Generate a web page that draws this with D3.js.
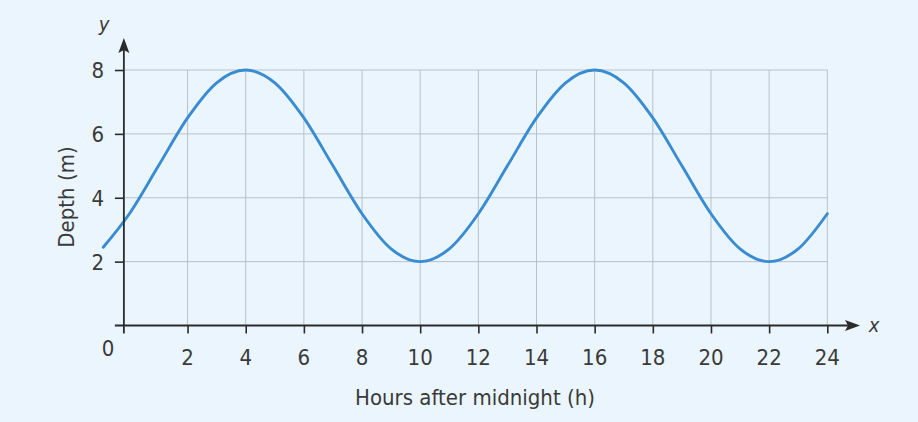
<!DOCTYPE html>
<html>
<head>
<meta charset="utf-8">
<script src="https://cdn.jsdelivr.net/npm/d3@7"></script>
<style>
  html, body { margin: 0; padding: 0; background: #eaf5fd; }
  svg { display: block; }
  text { font-family: "Liberation Sans Narrow", "DejaVu Sans Condensed", "Roboto", sans-serif; fill: #3a3a3a; }
</style>
</head>
<body>
<svg id="chart" width="918" height="422"></svg>
<script>
// Data
const hours  = [-0.9, 0, 1, 2, 3, 4, 5, 6, 7, 8, 9, 10, 11, 12, 13, 14, 15, 16, 17, 18, 19, 20, 21, 22, 23, 24];
const depths = [2.45, 3.5, 5.0, 6.5, 7.6, 8.0, 7.6, 6.5, 5.0, 3.5, 2.4, 2.0, 2.4, 3.5, 5.0, 6.5, 7.6, 8.0, 7.6, 6.5, 5.0, 3.5, 2.4, 2.0, 2.4, 3.5];
const xTicks = [2, 4, 6, 8, 10, 12, 14, 16, 18, 20, 22, 24];
const yTicks = [2, 4, 6, 8];
const xTitle = "Hours after midnight (h)";
const yTitle = "Depth (m)";

const svg = d3.select("#chart");
const W = 918, H = 422;
svg.append("rect").attr("width", W).attr("height", H).attr("fill", "#eaf5fd");

const x = d3.scaleLinear().domain([0, 24]).range([129.4, 827.3]);
const y = d3.scaleLinear().domain([0, 8]).range([325.5, 70]);
const axisAtX = -0.19;   // y-axis sits slightly left of x = 0 in the reference
const x0 = x(axisAtX), y0 = y(0);

const gridColor = "#b7c1ca";
const axisColor = "#2b2b2b";

// vertical grid lines
svg.append("g").selectAll("line").data(xTicks).join("line")
  .attr("x1", d => x(d)).attr("x2", d => x(d))
  .attr("y1", y(0)).attr("y2", y(8))
  .attr("stroke", gridColor).attr("stroke-width", 1);

// horizontal grid lines
svg.append("g").selectAll("line").data(yTicks).join("line")
  .attr("x1", x0).attr("x2", x(24))
  .attr("y1", d => y(d)).attr("y2", d => y(d))
  .attr("stroke", gridColor).attr("stroke-width", 1);

// curve
const pts = hours.map((h, i) => [h, depths[i]]);
const line = d3.line().x(d => x(d[0])).y(d => y(d[1])).curve(d3.curveMonotoneX);
svg.append("path").attr("d", line(pts))
  .attr("fill", "none").attr("stroke", "#3a8cd2").attr("stroke-width", 2.9)
  .attr("stroke-linecap", "round");

// axes
const xAxisG = svg.append("g").attr("transform", `translate(0,${y0})`);
xAxisG.call(d3.axisBottom(x).tickValues(xTicks).tickSize(8).tickFormat(""));
xAxisG.select(".domain").remove();
xAxisG.selectAll(".tick line").attr("stroke", axisColor).attr("stroke-width", 1.6);

const yAxisG = svg.append("g").attr("transform", `translate(${x0},0)`);
yAxisG.call(d3.axisLeft(y).tickValues(yTicks).tickSize(9).tickFormat(""));
yAxisG.select(".domain").remove();
yAxisG.selectAll(".tick line").attr("stroke", axisColor).attr("stroke-width", 1.6);

// axis lines
svg.append("line").attr("x1", x0 - 9).attr("x2", 848).attr("y1", y0).attr("y2", y0)
  .attr("stroke", axisColor).attr("stroke-width", 1.8);
svg.append("line").attr("x1", x0).attr("x2", x0).attr("y1", y0 + 8).attr("y2", 50)
  .attr("stroke", axisColor).attr("stroke-width", 1.8);

// arrowheads
svg.append("path").attr("d", `M${x0},38 L${x0 - 5.5},53 L${x0},50 L${x0 + 5.5},53 Z`).attr("fill", axisColor);
svg.append("path").attr("d", `M860,${y0} L845,${y0 - 5.5} L848,${y0} L845,${y0 + 5.5} Z`).attr("fill", axisColor);

// tick labels
svg.append("g").selectAll("text").data(xTicks).join("text")
  .attr("x", d => x(d)).attr("y", 365)
  .attr("text-anchor", "middle").attr("font-size", 22).text(d => d);
svg.append("g").selectAll("text").data(yTicks).join("text")
  .attr("x", 104).attr("y", d => y(d) + 8)
  .attr("text-anchor", "end").attr("font-size", 22).text(d => d);
svg.append("text").attr("x", 108).attr("y", 356).attr("text-anchor", "middle")
  .attr("font-size", 22).text("0");

// axis letters
svg.append("text").attr("x", 104).attr("y", 31).attr("text-anchor", "middle")
  .attr("font-size", 20).attr("font-style", "italic").text("y");
svg.append("text").attr("x", 874).attr("y", 332).attr("text-anchor", "middle")
  .attr("font-size", 20).attr("font-style", "italic").text("x");

// titles
svg.append("text").attr("x", 475).attr("y", 405).attr("text-anchor", "middle")
  .attr("font-size", 22).text(xTitle);
svg.append("text").attr("transform", "translate(74,197) rotate(-90)")
  .attr("text-anchor", "middle").attr("font-size", 22).text(yTitle);
</script>
</body>
</html>
